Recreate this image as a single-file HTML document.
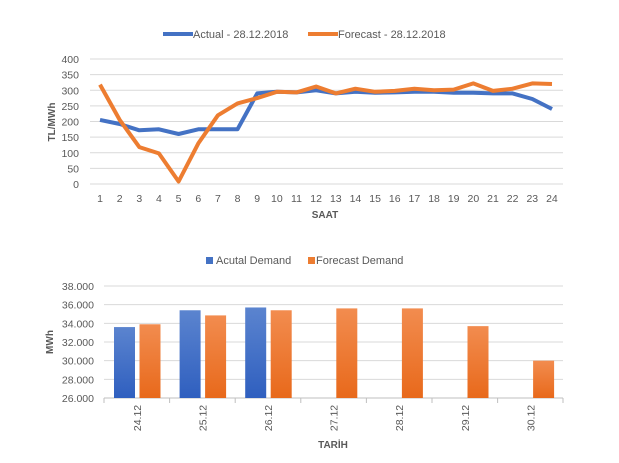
<!DOCTYPE html>
<html><head><meta charset="utf-8"><style>
html,body{margin:0;padding:0;background:#fff;}
svg{display:block;font-family:"Liberation Sans",sans-serif;}
</style></head><body>
<svg id="s" width="619" height="463" viewBox="0 0 619 463" xmlns="http://www.w3.org/2000/svg">
<defs>
<linearGradient id="gb" x1="0" y1="0" x2="0" y2="1"><stop offset="0" stop-color="#5b84cf"/><stop offset="1" stop-color="#2f5fbf"/></linearGradient>
<linearGradient id="go" x1="0" y1="0" x2="0" y2="1"><stop offset="0" stop-color="#f28c4f"/><stop offset="1" stop-color="#e8691b"/></linearGradient>
</defs>
<g font-size="11" fill="#595959">
<line x1="163" y1="34" x2="193" y2="34" stroke="#4472c4" stroke-width="4"/>
<text x="193" y="38">Actual - 28.12.2018</text>
<line x1="308" y1="34" x2="338" y2="34" stroke="#ed7d31" stroke-width="4"/>
<text x="338" y="38">Forecast - 28.12.2018</text>
<rect x="206" y="257" width="7" height="7" fill="#4472c4"/>
<text x="216" y="264">Acutal Demand</text>
<rect x="308" y="257" width="7" height="7" fill="#ed7d31"/>
<text x="316" y="264">Forecast Demand</text>
</g>
<g id="g"></g>
</svg>
<script>
var g=document.getElementById('g'),h='';
function T(x,y,t,a,extra){return '<text x="'+x+'" y="'+y+'" text-anchor="'+(a||'middle')+'" '+(extra||'')+'>'+t+'</text>';}
h+='<g font-size="10.5" fill="#595959">';
for(var v=0;v<=400;v+=50){var y=184-v*0.3125;h+='<line x1="90" x2="563" y1="'+y+'" y2="'+y+'" stroke="#d9d9d9"/>';h+=T(79,y+4,v,'end');}
for(var i=1;i<=24;i++)h+=T(100+(i-1)*19.65,202,i);
h+='</g>';
h+='<text x="325" y="218" font-size="10" font-weight="bold" fill="#595959" text-anchor="middle">SAAT</text>';
h+='<text transform="translate(55,122) rotate(-90)" font-size="10" font-weight="bold" fill="#595959" text-anchor="middle">TL/MWh</text>';
var A=[205,192,172,175,160,175,175,175,290,295,293,300,290,295,292,293,295,295,292,292,290,290,272,240];
var F=[318,205,118,98,8,130,220,258,275,295,293,312,290,305,295,298,305,300,302,322,298,305,322,320];
function P(d,c){var s='';for(var i=0;i<d.length;i++)s+=(i?'L':'M')+(100+i*19.65).toFixed(1)+','+(184-d[i]*0.3125).toFixed(1);return '<path d="'+s+'" fill="none" stroke="'+c+'" stroke-width="4" stroke-linejoin="round"/>';}
h+=P(A,'#4472c4')+P(F,'#ed7d31');
h+='<g font-size="10.5" fill="#595959">';
for(var v=26000;v<=38000;v+=2000){var y=398-(v-26000)*112/12000;h+='<line x1="104" x2="563" y1="'+y+'" y2="'+y+'" stroke="'+(v==26000?'#bfbfbf':'#d9d9d9')+'"/>';h+=T(94,y+4,(v/1000).toFixed(3),'end');}
var L=['24.12','25.12','26.12','27.12','28.12','29.12','30.12'];
var BA=[33600,35400,35700],BF=[33900,34850,35400,35600,35600,33700,30000];
for(var i=0;i<7;i++){var x0=104+i*65.6;h+='<line x1="'+x0+'" x2="'+x0+'" y1="398" y2="403" stroke="#bfbfbf"/>';
var cx=x0+32.8;h+='<text transform="translate('+(cx+4)+',418) rotate(-90)" text-anchor="middle">'+L[i]+'</text>';
if(i<3){var y=398-(BA[i]-26000)*112/12000;h+='<rect x="'+(x0+10)+'" y="'+y+'" width="21" height="'+(398-y)+'" fill="url(#gb)"/>';}
var y=398-(BF[i]-26000)*112/12000;h+='<rect x="'+(x0+35.5)+'" y="'+y+'" width="21" height="'+(398-y)+'" fill="url(#go)"/>';}
h+='<line x1="563" x2="563" y1="398" y2="403" stroke="#bfbfbf"/>';
h+='</g>';
h+='<text x="333" y="448" font-size="10" font-weight="bold" fill="#595959" text-anchor="middle">TARİH</text>';
h+='<text transform="translate(53,342) rotate(-90)" font-size="10" font-weight="bold" fill="#595959" text-anchor="middle">MWh</text>';
g.innerHTML=h;
</script>
</body></html>
